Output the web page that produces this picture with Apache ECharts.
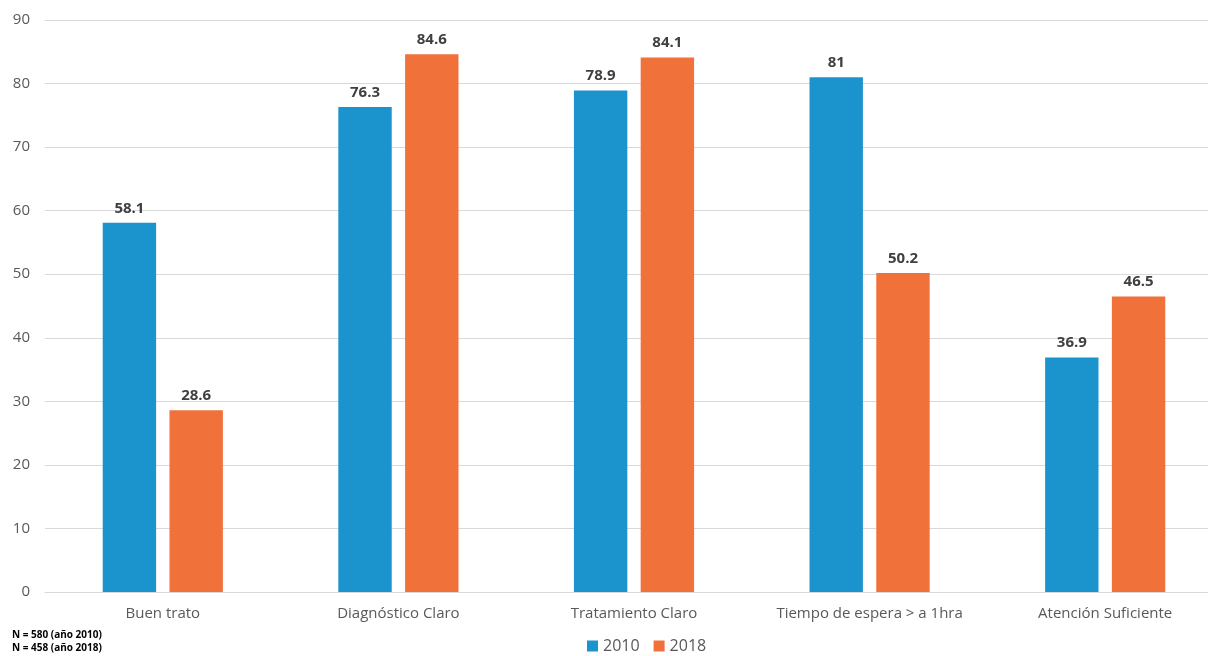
<!DOCTYPE html>
<html><head><meta charset="utf-8">
<script src="https://cdn.jsdelivr.net/npm/echarts@6/dist/echarts.min.js"></script>
<style>html,body{margin:0;padding:0;background:#fff;overflow:hidden;width:1208px;height:656px}#c{width:1223px;height:656px}</style>
</head><body><div id="c"></div>
<script>
const categories = ['Buen trato','Diagnóstico Claro','Tratamiento Claro','Tiempo de espera > a 1hra','Atención Suficiente'];
const values2010 = [58.1, 76.3, 78.9, 81, 36.9];
const values2018 = [28.6, 84.6, 84.1, 50.2, 46.5];
const seriesNames = ['2010','2018'];
const notes = ['N = 580 (año 2010)','N = 458 (año 2018)'];

const chart = echarts.init(document.getElementById('c'));
const font = 'Open Sans, Noto Sans, sans-serif';
const lbl = {show:true, position:'top', distance:7, color:'#404040', fontWeight:'bold', fontSize:15, fontFamily:font};
chart.setOption({
  animation:false,
  grid:{left:45,right:0,top:20,bottom:64},
  legend:{data:seriesNames,bottom:-3,left:582,itemWidth:11,itemHeight:11,itemGap:14,icon:'rect',
    textStyle:{color:'#595959',fontSize:16,fontFamily:font}},
  graphic:[
    {type:'text',left:12,top:629,style:{text:notes.join('\n'),fontSize:10,fontWeight:'bold',fill:'#000',fontFamily:font,lineHeight:13}}
  ],
  xAxis:{type:'category',data:categories,axisLine:{lineStyle:{color:'#d9d9d9'}},axisTick:{show:false},
    axisLabel:{color:'#595959',fontSize:15,fontFamily:font,margin:14,interval:0}},
  yAxis:{type:'value',min:0,max:90,interval:10,axisLabel:{color:'#595959',fontSize:15,fontFamily:font,margin:15,align:'right'},
    splitLine:{lineStyle:{color:'#d9d9d9'}},axisLine:{show:false}},
  series:[
    {name:seriesNames[0],type:'bar',data:values2010,itemStyle:{color:'#1b94ce'},barGap:'25%',barCategoryGap:'49%',label:lbl},
    {name:seriesNames[1],type:'bar',data:values2018,itemStyle:{color:'#f1713a'},label:lbl}
  ]
});
</script></body></html>
